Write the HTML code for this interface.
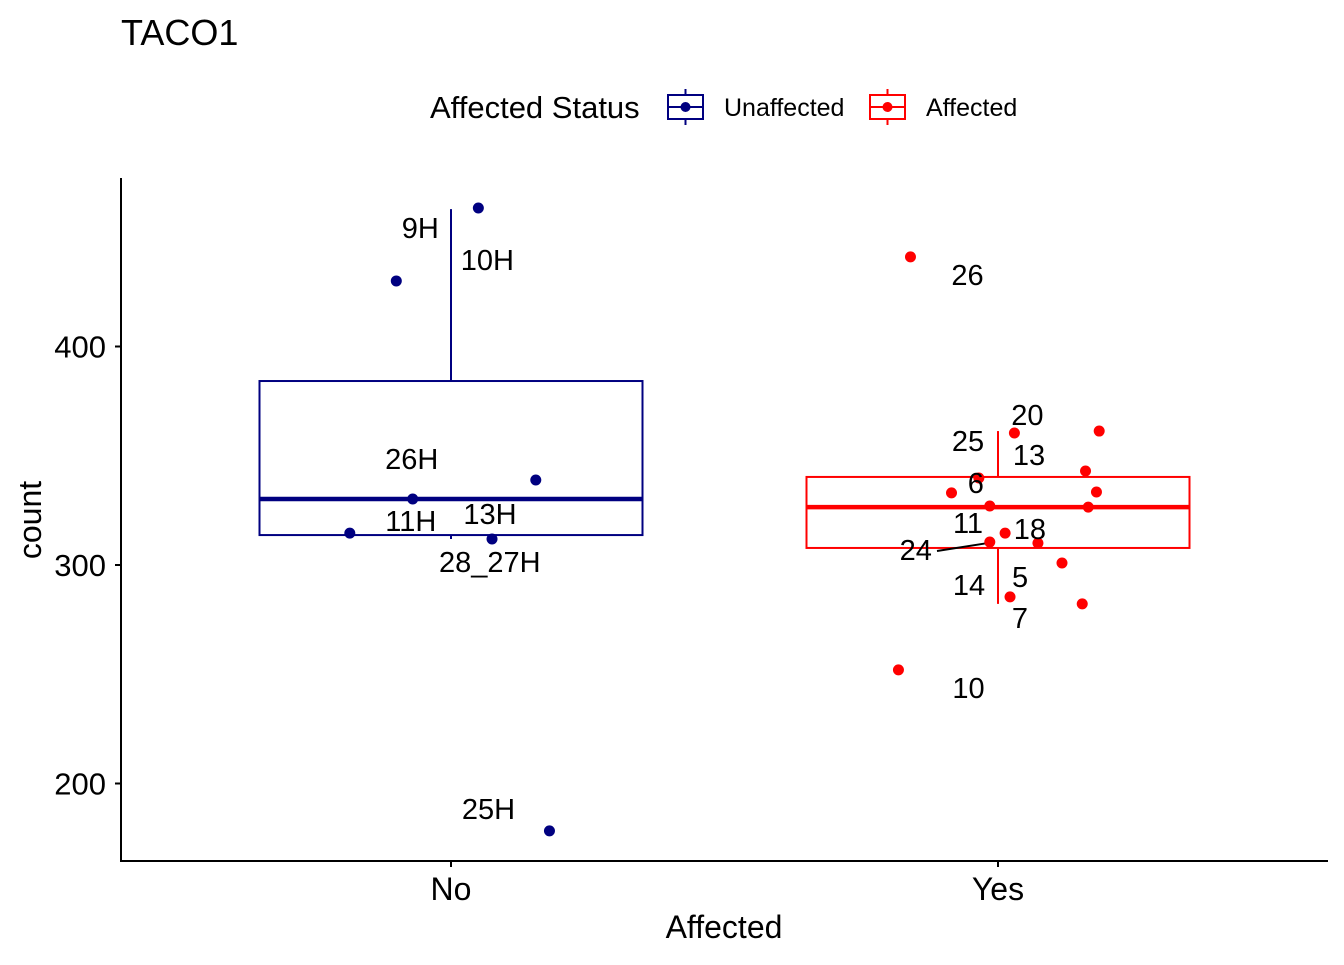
<!DOCTYPE html>
<html><head><meta charset="utf-8"><style>
body{margin:0;background:#fff}
svg text{font-family:"Liberation Sans",Arial,sans-serif}
</style></head><body>
<svg id="chart" width="1344" height="960" xmlns="http://www.w3.org/2000/svg">
<text x="121" y="45" font-size="36">TACO1</text>
<g>
<text x="430" y="118" font-size="31">Affected Status</text>
<g>
<line x1="685.5" y1="89" x2="685.5" y2="125" stroke="#000080" stroke-width="2"/>
<rect x="668" y="95" width="35" height="24" fill="#fff" stroke="#000080" stroke-width="2"/>
<line x1="668" y1="107" x2="703" y2="107" stroke="#000080" stroke-width="2"/>
<circle cx="685.5" cy="107" r="5" fill="#000080"/>
<text x="724" y="116" font-size="25">Unaffected</text></g>
<g>
<line x1="887.5" y1="89" x2="887.5" y2="125" stroke="#ff0000" stroke-width="2"/>
<rect x="870" y="95" width="35" height="24" fill="#fff" stroke="#ff0000" stroke-width="2"/>
<line x1="870" y1="107" x2="905" y2="107" stroke="#ff0000" stroke-width="2"/>
<circle cx="887.5" cy="107" r="5" fill="#ff0000"/>
<text x="926" y="116" font-size="25">Affected</text></g>
</g>
<g id="plot"></g>
</svg>
<script>
const categories = ["No", "Yes"];
const colors = ["#000080", "#ff0000"];
const yTicks = [200, 300, 400];
// box stats: [lowerWhisker, q1, median, q3, upperWhisker]
const boxNo = [311.9, 313.7, 330.2, 384.2, 462.9];
const boxYes = [282.2, 307.8, 326.5, 340.3, 361.3];
const noJitter = [0.05, -0.10, 0.155, -0.07, -0.185, 0.075, 0.18];
const noValues = [463.4, 430.0, 338.9, 330.2, 314.6, 311.9, 178.3];
const noLabels = ["10H", "9H", "28_27H", "26H", "11H", "13H", "25H"];
const yesJitter = [-0.16, 0.03, 0.185, 0.16, -0.035, -0.085, 0.18, -0.015, 0.165, 0.013, -0.015, 0.073, 0.117, 0.022, 0.154, -0.182];
const yesValues = [441.0, 360.4, 361.3, 343.0, 339.8, 333.0, 333.4, 327.0, 326.5, 314.6, 310.5, 310.0, 300.9, 285.4, 282.2, 252.0];
const yesLabels = ["26", "20", "", "", "6", "", "", "", "", "", "24", "18", "", "5", "", "10"];
const noLabelDx = [9, 24, -46, -1, 61, -2, -61];
const noLabelDy = [52, -53, 82, -40, -12, -25, -22];
const yesLabelDx = [57, 13, 0, 0, -3, 0, 0, 0, 0, 0, -74, -8, 0, 10, 0, 70];
const yesLabelDy = [18, -18, 0, 0, 5, 0, 0, 0, 0, 0, 8, -14, 0, -20, 0, 18];
const extraLabels = ["25", "13", "11", "14", "7"];
const extraX = [968, 1029, 968, 969, 1020];
const extraY = [441, 455, 523, 585, 618];

const NS = "http://www.w3.org/2000/svg";
const plot = document.getElementById("plot");
const xMap = i => 451 + i * 547;
const yMap = v => 565 - (v - 300) * 2.185;
function mk(tag, attrs) { const e = document.createElementNS(NS, tag); for (const k in attrs) e.setAttribute(k, attrs[k]); plot.appendChild(e); return e; }

let e = mk("line", {x1: 121, y1: 178, x2: 121, y2: 862, stroke: "#000", "stroke-width": 2});


e = mk("line", {x1: 120, y1: 861, x2: 1328, y2: 861, stroke: "#000", "stroke-width": 2});


yTicks.forEach(t => {
  const y = yMap(t);
  let l = mk("line", {x1: 115, y1: y, x2: 121, y2: y, stroke: "#000", "stroke-width": 2});
  
  
  let tx = mk("text", {x: 106, y: y + 11, "font-size": 31, "text-anchor": "end", fill: "#000"});
  tx.textContent = t;
  
  
});
categories.forEach((c, i) => {
  const x = xMap(i);
  let l = mk("line", {x1: x, y1: 861, x2: x, y2: 867, stroke: "#000", "stroke-width": 2});
  
  
  let tx = mk("text", {x: x, y: 900, "font-size": 32, "text-anchor": "middle"});
  tx.textContent = c;
  
  
});
e = mk("text", {x: 724, y: 938, "font-size": 32, "text-anchor": "middle"});
e.textContent = "Affected";


e = mk("text", {x: 41, y: 520, "font-size": 32, "text-anchor": "middle", transform: "rotate(-90 41 520)"});
e.textContent = "count";



[boxNo, boxYes].forEach((b, i) => {
  const x = xMap(i), hw = 191.5, col = colors[i];
  let w = mk("line", {x1: x, y1: yMap(b[4]), x2: x, y2: yMap(b[3]), stroke: col, "stroke-width": 2});
  
  
  w = mk("line", {x1: x, y1: yMap(b[1]), x2: x, y2: yMap(b[0]), stroke: col, "stroke-width": 2});
  
  
  let r = mk("rect", {x: x - hw, y: yMap(b[3]), width: hw * 2, height: yMap(b[1]) - yMap(b[3]), fill: "none", stroke: col, "stroke-width": 2});
  
  
  let m = mk("line", {x1: x - hw, y1: yMap(b[2]), x2: x + hw, y2: yMap(b[2]), stroke: col, "stroke-width": 4.5});
  
  
});

e = mk("line", {x1: 937, y1: 551, x2: xMap(1 + yesJitter[10]) - 2, y2: yMap(yesValues[10]) + 1, stroke: "#000", "stroke-width": 2});



[[noJitter, noValues, noLabels, noLabelDx, noLabelDy, 0], [yesJitter, yesValues, yesLabels, yesLabelDx, yesLabelDy, 1]].forEach(([jit, vals, labs, dx, dy, i]) => {
  vals.forEach((v, k) => {
    const px = xMap(i + jit[k]), py = yMap(v);
    let c = mk("circle", {cx: px, cy: py, r: 5.5, fill: colors[i]});
    
    
    if (labs[k]) {
      let t = mk("text", {x: px + dx[k], y: py + dy[k] + 10, "font-size": 29, "text-anchor": "middle"});
      t.textContent = labs[k];
      
      
    }
  });
});
extraLabels.forEach((s, k) => {
  let t = mk("text", {x: extraX[k], y: extraY[k] + 10, "font-size": 29, "text-anchor": "middle"});
  t.textContent = s;
  
  
});
</script>
</body></html>
